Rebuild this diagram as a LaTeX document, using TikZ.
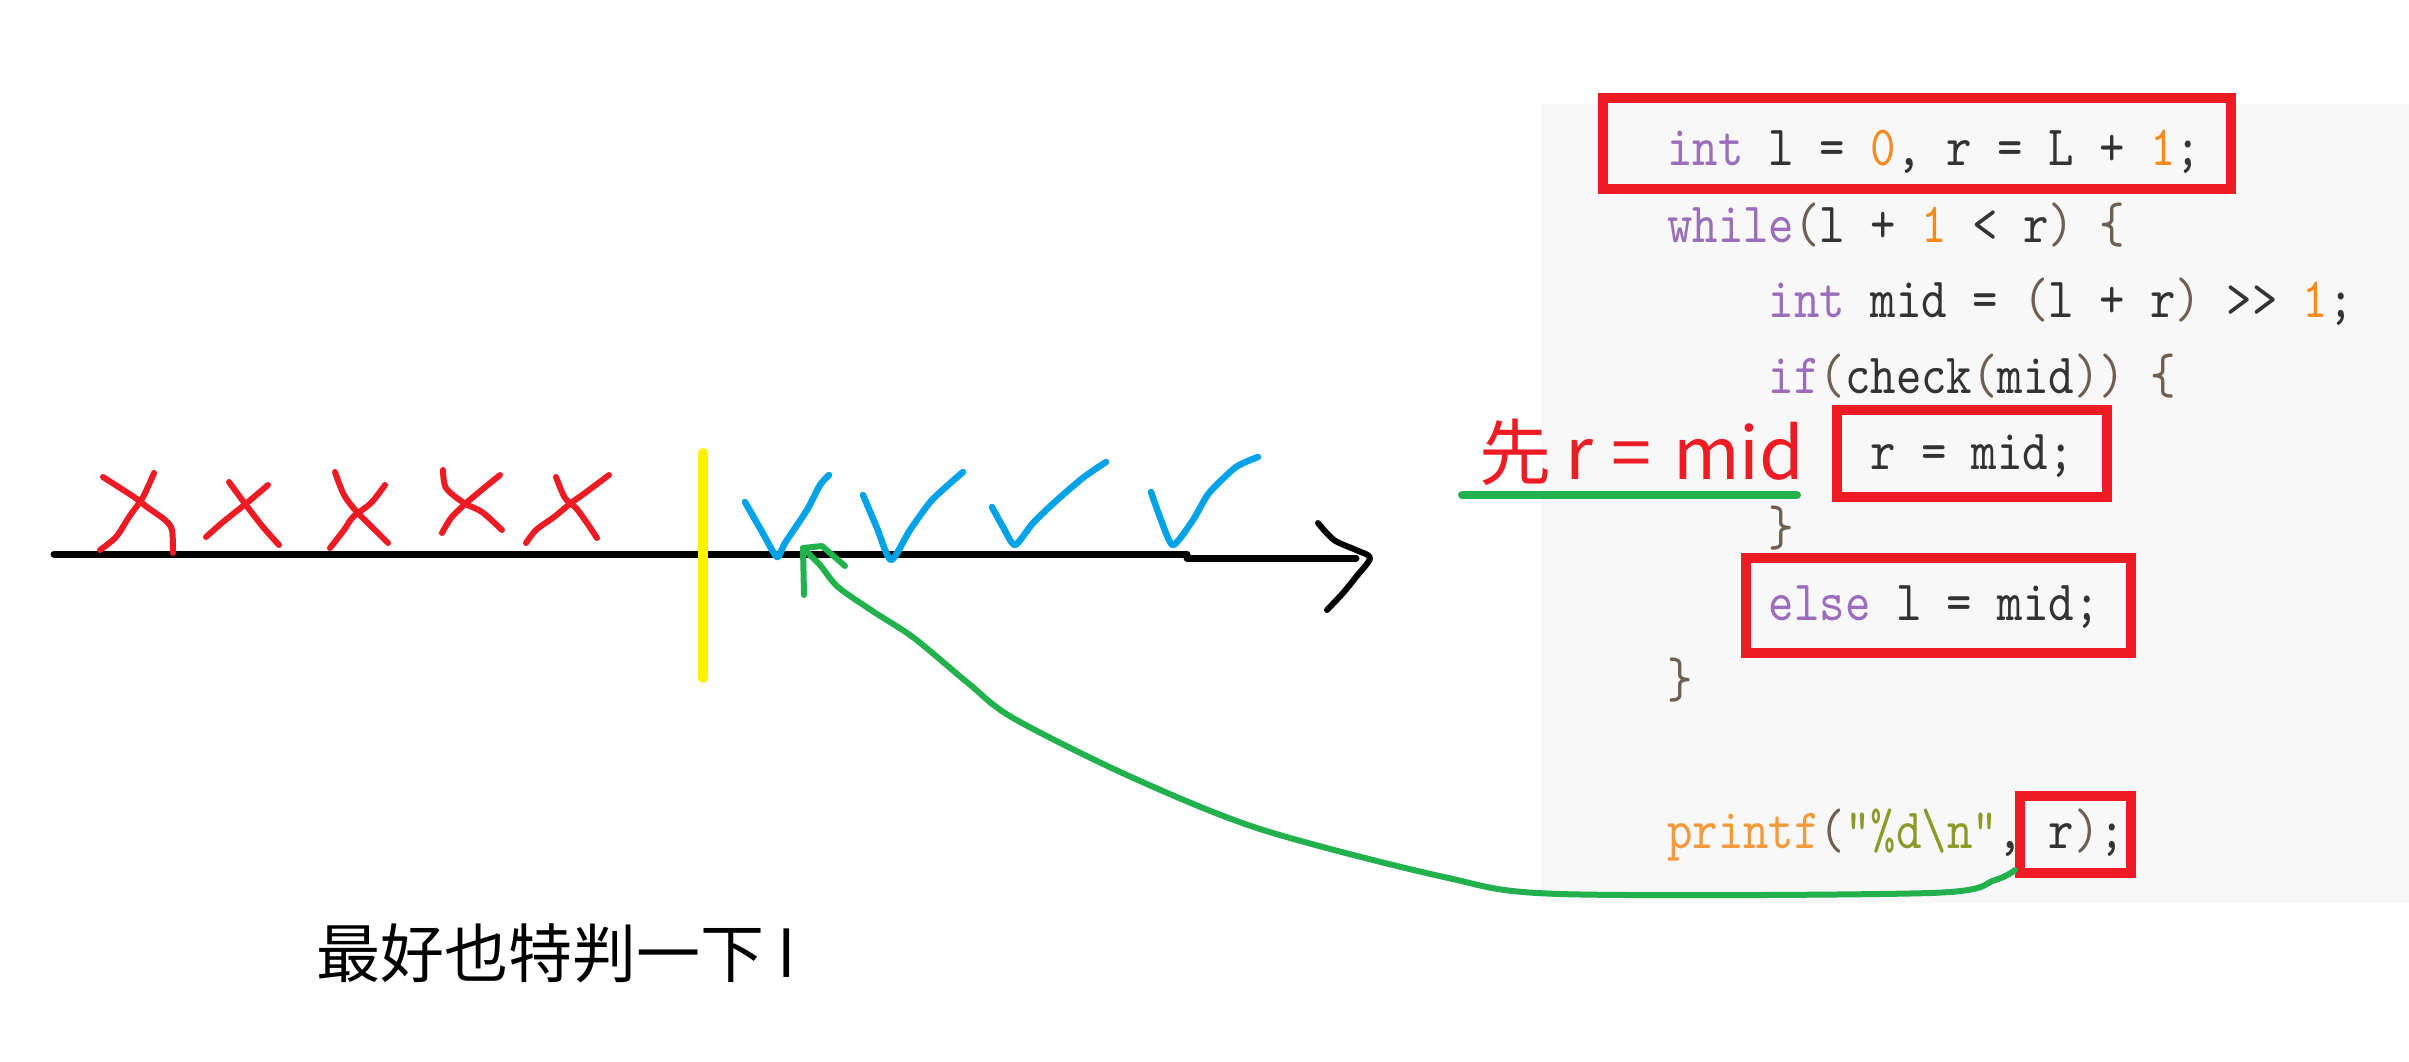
\documentclass[tikz,border=0pt]{standalone}
\usepackage{fontspec}
\setmainfont{Liberation Sans}
\newfontfamily\cjk{Noto Sans CJK SC}
\newfontfamily\nsans{Noto Sans}
\newfontfamily\codefont[FakeStretch=0.85]{lmmono10-regular.otf}
\definecolor{pred}{HTML}{ED1C24}
\definecolor{pgreen}{HTML}{22B14C}
\definecolor{pblue}{HTML}{00A2E8}
\definecolor{pyellow}{HTML}{FFF200}
\definecolor{codebg}{HTML}{F8F8F8}
\definecolor{codefg}{HTML}{333333}
\definecolor{kwc}{HTML}{9B6DBB}
\definecolor{numc}{HTML}{F58A1F}
\definecolor{fnc}{HTML}{F39A3C}
\definecolor{strc}{HTML}{8C9A28}
\definecolor{parc}{HTML}{6E6050}
\newcommand\ckw[1]{\textcolor{kwc}{#1}}
\newcommand\cnum[1]{\textcolor{numc}{#1}}
\newcommand\cfn[1]{\textcolor{fnc}{#1}}
\newcommand\cstr[1]{\textcolor{strc}{#1}}
\newcommand\cpar[1]{\textcolor{parc}{#1}}
\tikzset{
  code/.style={anchor=base west, inner sep=0pt, text=codefg,
    font=\codefont\fontsize{57}{57}\selectfont},
  redbox/.style={draw=pred, line width=10pt, inner sep=0pt, rectangle},
  greenline/.style={draw=pgreen, line width=7pt, line cap=round, line join=round},
  axisline/.style={draw=black, line width=7pt, line cap=round, line join=round},
  crossline/.style={draw=pred, line width=6pt, line cap=round, line join=round},
  checkline/.style={draw=pblue, line width=6.5pt, line cap=round, line join=round},
}
\begin{document}
\begin{tikzpicture}[x=1pt,y=-1pt]
\useasboundingbox (0,0) rectangle (2409,1061);
\fill[white] (0,0) rectangle (2409,1061);
\fill[codebg] (1541,104) rectangle (2409,903);

% code lines
\node[code] (l1) at (1667,165) {\ckw{int} l = \cnum{0}, r = L + \cnum{1};};
\node[code] (l2) at (1667,242) {\ckw{while}\cpar{(}l + \cnum{1} < r\cpar{)} \cpar{\{}};
\node[code] (l3) at (1768.6,317) {\ckw{int} mid = \cpar{(}l + r\cpar{)} >> \cnum{1};};
\node[code] (l4) at (1768.6,393) {\ckw{if}\cpar{(}check\cpar{(}mid\cpar{))} \cpar{\{}};
\node[code] (l5) at (1870,469) {r = mid;};
\node[code] (l6) at (1768.6,545) {\cpar{\}}};
\node[code] (l7) at (1768.6,620) {\ckw{else} l = mid;};
\node[code] (l8) at (1667,697) {\cpar{\}}};
\node[code] (l10) at (1667,848) {\cfn{printf}\cpar{(}\cstr{"\%d\textbackslash n"}, r\cpar{)};};

% red boxes
\node[redbox, minimum width=628pt, minimum height=91pt] (b1) at (1917,143.5) {};
\node[redbox, minimum width=270pt, minimum height=87pt] (b2) at (1972,453.5) {};
\node[redbox, minimum width=385pt, minimum height=95pt] (b3) at (1938.5,605.5) {};
\node[redbox, minimum width=111pt, minimum height=77pt] (b4) at (2075.5,834.5) {};

% label
\node[anchor=base west, inner sep=0pt, text=pred, font=\cjk\fontsize{72}{72}\selectfont] (lab) at (1479,479) {先\hspace{14pt}r\hspace{18pt}=\hspace{22pt}mid};
\draw[greenline, line width=8pt] (1462,495) -- (1797,495);

% bottom note
\node[anchor=base west, inner sep=0pt, text=black, font=\cjk\fontsize{64}{64}\selectfont] (note) at (316,977) {最好也特判一下 {\nsans l}};

% axis
\draw[axisline] (54,554) -- (1187,554);
\draw[axisline] (1187,558) -- (1356,558);
\draw[axisline, line width=6pt] plot[smooth, tension=0.5] coordinates {(1318,523) (1334,540) (1356,550) (1370,558) (1356,577) (1343,593) (1327,610)};

% yellow divider
\draw[draw=pyellow, line width=10pt, line cap=round] (703,453) -- (703,678);

% crosses
\draw[crossline] plot[smooth, tension=0.5] coordinates {(103,477) (134,497) (147,507) (165,520) (172,530) (173,553)};
\draw[crossline] plot[smooth, tension=0.5] coordinates {(154,473) (143,497) (129,517) (116,537) (100,550)};
\draw[crossline] plot[smooth, tension=0.5] coordinates {(229,482) (246,505) (263,527) (279,545)};
\draw[crossline] plot[smooth, tension=0.5] coordinates {(268,485) (248,502) (223,522) (206,537)};
\draw[crossline] plot[smooth, tension=0.5] coordinates {(335,472) (344,495) (357,512) (375,530) (388,543)};
\draw[crossline] plot[smooth, tension=0.5] coordinates {(385,485) (371,503) (353,517) (344,530) (330,548)};
\draw[crossline] plot[smooth, tension=0.5] coordinates {(443,470) (446,488) (464,503) (482,512) (502,530)};
\draw[crossline] plot[smooth, tension=0.5] coordinates {(500,475) (478,493) (464,505) (451,518) (442,533)};
\draw[crossline] plot[smooth, tension=0.5] coordinates {(556,477) (565,498) (576,508) (587,523) (597,538)};
\draw[crossline] plot[smooth, tension=0.5] coordinates {(609,475) (585,493) (571,503) (554,517) (536,530) (526,543)};

% checks
\draw[checkline] plot[smooth, tension=0.4] coordinates {(745,502) (761,530) (777,557) (785,543) (807,510) (820,485) (829,475)};
\draw[checkline] plot[smooth, tension=0.4] coordinates {(863,495) (877,528) (891,560) (910,530) (932,500) (963,472)};
\draw[checkline] plot[smooth, tension=0.4] coordinates {(992,507) (1003,527) (1015,545) (1033,523) (1057,500) (1084,477) (1106,462)};
\draw[checkline] plot[smooth, tension=0.4] coordinates {(1151,492) (1161,520) (1173,545) (1193,520) (1209,493) (1236,467) (1258,457)};

% green arrow from printf's r back to first check
\coordinate (gs) at ([yshift=8pt]b4.south west);
\coordinate (tip) at (803,548);
\draw[greenline, line width=6pt] plot[smooth, tension=0.5] coordinates {(gs) (1995,880) (1930,893) (1560,894) (1444,877) (1260,829) (1129,776) (1013,718) (968,683) (914,638) (874,612) (838,587) (820,565) (tip)};
\draw[greenline, line width=6pt] (804,595) -- (tip) -- (822,546) -- (845,566);
\end{tikzpicture}
\end{document}
